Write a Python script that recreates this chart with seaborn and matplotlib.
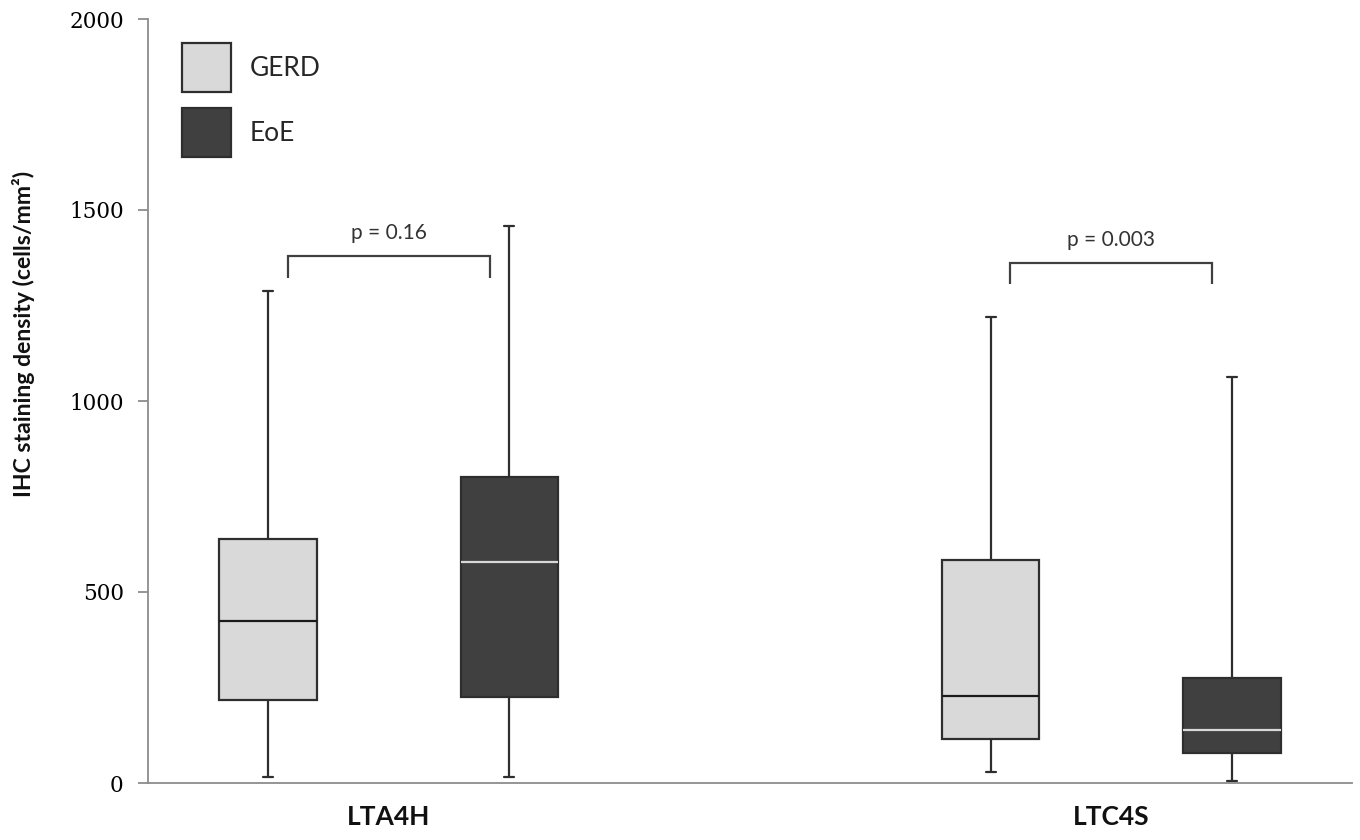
import numpy as np
import pandas as pd
import matplotlib
matplotlib.use("Agg")
import matplotlib.pyplot as plt
from matplotlib.patches import Patch
import seaborn as sns

# Categories and groups
genes = ["LTA4H", "LTC4S"]
groups = ["GERD", "EoE"]

# Five-number summaries per box: min, Q1, median, Q3, max (cells/mm²)
lta4h_gerd = [16, 217, 423, 640, 1289]
lta4h_eoe = [16, 225, 578, 800, 1459]
ltc4s_gerd = [29, 115, 227, 583, 1221]
ltc4s_eoe = [5, 78, 139, 275, 1064]

p_labels = ["p = 0.16", "p = 0.003"]
y_ticks = [0, 500, 1000, 1500, 2000]

# Styling
fill_colors = ["#D9D9D9", "#404040"]
median_colors = ["#1A1A1A", "#D9D9D9"]
edge_color = "#2E2E2E"
axis_color = "#8C8C8C"

summaries = {
    ("LTA4H", "GERD"): lta4h_gerd,
    ("LTA4H", "EoE"): lta4h_eoe,
    ("LTC4S", "GERD"): ltc4s_gerd,
    ("LTC4S", "EoE"): ltc4s_eoe,
}
rows = [(g, grp, v) for (g, grp), vals in summaries.items() for v in vals]
df = pd.DataFrame(rows, columns=["gene", "group", "density"])

sns.set_style("white")
plt.rcParams["font.family"] = ["Lato", "DejaVu Sans"]

fig = plt.figure(figsize=(13.6, 8.4), dpi=100)
ax = fig.add_axes([148 / 1360, 57 / 840, 1204 / 1360, 764 / 840])

sns.boxplot(
    data=df, x="gene", y="density", hue="group",
    order=genes, hue_order=groups, palette=fill_colors, saturation=1,
    width=0.668, gap=0.595, whis=(0, 100), showfliers=False,
    linecolor=edge_color, linewidth=1.6, legend=False, ax=ax,
    capwidths=0.014,
)

# median line colour per group
for container, mcol in zip(ax.containers, median_colors):
    for line in container.medians:
        line.set_color(mcol)
        line.set_linewidth(1.6)

# significance brackets
bracket_top = [1380, 1362]
bracket_foot = [1323, 1307]
for i, (lab, top, foot) in enumerate(zip(p_labels, bracket_top, bracket_foot)):
    x0, x1 = i - 0.14, i + 0.14
    ax.plot([x0, x0, x1, x1], [foot, top, top, foot], color="#404040",
            lw=1.6, solid_capstyle="butt", solid_joinstyle="miter")
    ax.text(i, top + 45, lab, ha="center", va="baseline",
            fontsize=15, color="#333333", family="Lato")

ax.set_xlim(-1 / 3, 4 / 3)
ax.set_ylim(0, 2000)
ax.set_yticks(y_ticks)
ax.set_yticklabels([str(t) for t in y_ticks], family="DejaVu Serif",
                   fontsize=15.5, color="#000000")

ax.set_xticks([0, 1])
ax.set_xticklabels(genes, fontweight="bold", fontsize=19, family="Lato",
                   color="#111111")
ax.set_xticks([-1 / 3, 1 / 3, 1], minor=True)
ax.tick_params(axis="x", which="major", length=0, pad=16)
ax.tick_params(axis="x", which="minor", length=6, width=1.3,
               color=axis_color, direction="out")
ax.tick_params(axis="y", which="major", length=7.5, width=1.3,
               color=axis_color, direction="out", pad=10, left=True)
ax.set_xlabel("")

for side in ["top", "right"]:
    ax.spines[side].set_visible(False)
for side in ["left", "bottom"]:
    ax.spines[side].set_color(axis_color)
    ax.spines[side].set_linewidth(1.3)

ax.set_ylabel("IHC staining density (cells/mm²)", fontsize=16.6,
              fontweight="bold", family="Lato", color="#111111")
ax.yaxis.set_label_coords(-0.103, 0.588)
ax.yaxis.label.set_va("center")

handles = [Patch(facecolor=c, edgecolor=edge_color, linewidth=1.6, label=g)
           for c, g in zip(fill_colors, groups)]
ax.legend(handles=handles, loc="upper left",
          bbox_to_anchor=(34 / 1204, 1 - 24 / 764), frameon=False,
          borderpad=0, borderaxespad=0, handlelength=1.86, handleheight=2.48,
          handletextpad=0.72, labelspacing=0.606,
          prop=dict(family="Lato", size=19))
for t in ax.get_legend().get_texts():
    t.set_color("#262626")

fig.savefig("out.png", dpi=100)
